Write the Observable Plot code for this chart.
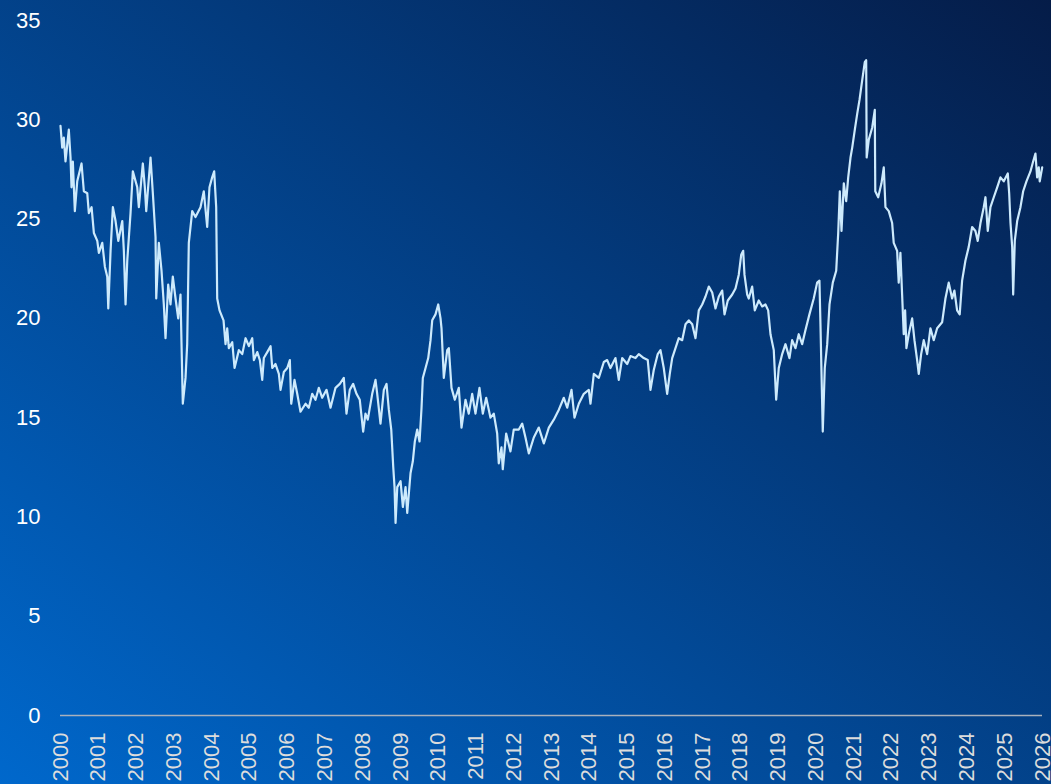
<!DOCTYPE html>
<html>
<head>
<meta charset="utf-8">
<script src="https://cdn.jsdelivr.net/npm/d3@7"></script>
<script src="https://cdn.jsdelivr.net/npm/@observablehq/plot@0.6"></script>
<style>
  html, body { margin: 0; padding: 0; }
  body {
    width: 1051px; height: 784px; overflow: hidden;
    background: linear-gradient(to top right, #0068cc, #051c48);
  }
  #chart svg { display: block; }
</style>
</head>
<body>
<div id="chart"></div>
<script>
// Years elapsed since 1 Jan 2000 for each sampled point
const yearsSince2000 = [
  0.000,0.045,0.087,0.132,0.220,0.265,0.291,0.326,0.379,0.442,0.556,0.617,0.707,0.749,0.821,0.882,0.972,
  1.014,1.104,1.173,1.236,1.263,1.324,1.385,1.456,1.528,1.634,1.676,1.721,1.766,1.853,1.914,
  2.031,2.073,2.179,2.232,2.269,2.383,2.444,2.515,2.534,2.603,2.674,2.735,2.780,2.851,2.912,2.973,
  3.045,3.116,3.177,3.204,3.238,3.310,3.354,3.397,3.487,3.574,3.707,3.794,3.884,3.945,
  4.016,4.069,4.122,4.149,4.210,4.316,4.369,4.413,4.456,4.546,4.607,4.721,4.811,4.898,4.986,
  5.075,5.118,5.208,5.277,5.340,5.382,5.473,5.560,5.605,5.692,5.780,5.825,5.912,
  6.002,6.071,6.108,6.195,6.267,6.354,6.487,6.574,6.664,6.751,6.839,6.929,
  7.043,7.149,7.281,7.395,7.501,7.572,7.659,7.749,7.837,7.924,
  8.014,8.075,8.136,8.253,8.340,8.385,8.472,8.560,8.631,8.692,8.756,8.809,8.843,8.870,8.915,
  9.002,9.063,9.134,9.179,9.266,9.327,9.380,9.444,9.505,9.558,9.592,9.664,9.735,9.796,9.841,9.928,
  10.000,10.061,10.087,10.148,10.238,10.281,10.352,10.439,10.545,10.617,10.723,10.810,10.900,10.987,
  11.093,11.181,11.271,11.385,11.472,11.562,11.604,11.676,11.710,11.800,11.914,
  12.001,12.134,12.224,12.311,12.399,12.531,12.663,12.796,12.928,
  13.060,13.193,13.325,13.415,13.529,13.608,13.722,13.855,13.987,
  14.032,14.120,14.252,14.385,14.474,14.561,14.694,14.781,14.871,
  15.004,15.091,15.224,15.311,15.443,15.549,15.621,15.708,15.814,15.886,15.973,
  16.063,16.132,16.196,16.283,16.370,16.460,16.548,16.635,16.725,16.812,16.899,16.989,
  17.077,17.164,17.254,17.341,17.429,17.519,17.580,17.667,17.784,17.871,17.958,
  18.022,18.075,18.109,18.181,18.223,18.313,18.382,18.488,18.578,18.665,18.737,18.798,18.885,18.949,
  19.018,19.108,19.195,19.301,19.372,19.460,19.547,19.637,19.724,19.830,19.944,
  20.034,20.095,20.122,20.183,20.236,20.300,20.361,20.448,20.538,20.591,20.633,20.678,20.739,20.802,20.855,20.916,20.961,
  21.030,21.093,21.154,21.226,21.294,21.331,21.344,21.400,21.490,21.559,21.572,21.649,21.736,21.797,21.842,21.929,
  22.019,22.061,22.151,22.193,22.238,22.283,22.326,22.363,22.397,22.459,22.549,22.610,22.681,22.724,22.787,22.856,22.946,
  23.033,23.121,23.211,23.343,23.431,23.518,23.608,23.669,23.740,23.809,23.873,23.960,
  24.048,24.138,24.225,24.286,24.358,24.445,24.490,24.551,24.622,24.710,24.800,24.887,24.974,
  25.080,25.117,25.152,25.197,25.223,25.266,25.329,25.416,25.488,25.575,25.681,25.752,25.813,25.858,25.901,25.927,25.991
];

const values = [
  29.7,28.6,29.1,27.9,29.5,28.1,26.6,27.9,25.4,26.9,27.8,26.4,26.3,25.3,25.6,24.3,23.9,
  23.3,23.8,22.6,22.1,20.5,23.4,25.6,24.9,23.9,24.9,23.4,20.7,22.9,25.3,27.4,
  26.6,25.6,27.8,26.6,25.4,28.1,26.3,24.1,21.0,23.8,22.4,20.7,19.0,21.7,20.7,22.1,
  21.0,20.0,21.2,18.7,15.7,17.0,18.7,23.8,25.4,25.1,25.6,26.4,24.6,26.6,
  27.1,27.4,25.6,21.0,20.4,19.9,18.7,19.5,18.5,18.8,17.5,18.4,18.2,19.0,18.6,
  19.0,17.9,18.3,17.9,16.9,18.0,18.3,18.6,17.5,17.7,17.2,16.4,17.3,
  17.5,17.9,15.7,16.9,16.2,15.3,15.7,15.5,16.2,15.9,16.5,16.0,
  16.4,15.5,16.5,16.7,17.0,15.2,16.4,16.7,16.2,15.9,
  14.3,15.2,14.9,16.2,16.9,16.2,14.7,16.4,16.7,15.4,14.4,12.5,11.5,9.7,11.5,
  11.8,10.5,11.5,10.2,12.2,12.8,13.8,14.4,13.8,15.5,17.0,17.5,18.0,18.9,19.9,20.2,
  20.7,20.0,19.5,17.0,18.4,18.5,16.5,15.9,16.5,14.5,15.9,15.2,16.2,15.2,
  16.5,15.2,16.0,15.0,15.2,14.2,12.7,13.5,12.4,14.2,13.3,
  14.4,14.4,14.7,14.0,13.2,14.0,14.5,13.7,14.5,
  14.9,15.4,16.0,15.5,16.4,15.0,15.7,16.2,16.4,
  15.7,17.2,17.0,17.8,17.9,17.5,18.0,16.9,18.0,
  17.7,18.1,18.0,18.2,18.0,17.9,16.4,17.4,18.2,18.4,17.5,
  16.2,17.2,18.0,18.5,19.0,18.9,19.7,19.9,19.7,19.0,20.4,20.7,
  21.1,21.6,21.3,20.5,21.1,21.4,20.2,20.9,21.2,21.5,22.2,
  23.2,23.4,22.2,21.2,21.0,21.6,20.4,20.9,20.6,20.7,20.4,19.2,18.4,15.9,
  17.5,18.2,18.7,18.0,18.9,18.5,19.2,18.7,19.4,20.2,21.0,
  21.8,21.9,19.7,14.3,17.5,18.7,20.7,21.8,22.4,24.3,26.4,24.4,26.8,25.9,27.1,28.1,28.6,
  29.5,30.3,31.0,32.0,32.9,33.0,28.1,29.0,29.6,30.5,26.4,26.1,26.8,27.6,25.6,25.4,
  24.8,23.8,23.4,21.8,23.3,21.2,19.2,20.4,18.5,19.2,20.0,18.9,17.9,17.2,18.2,18.9,18.2,
  19.5,18.9,19.5,19.8,21.0,21.8,21.0,21.4,20.4,20.2,21.9,22.9,
  23.6,24.6,24.4,23.9,24.8,25.6,26.1,24.4,25.6,26.1,26.6,27.1,26.9,
  27.3,26.3,24.8,23.6,21.2,23.9,24.9,25.6,26.4,26.9,27.4,27.9,28.3,27.1,27.6,26.9,27.6
];

const yTicks = [0, 5, 10, 15, 20, 25, 30, 35];
const xTickYears = d3.range(2000, 2027);

function decimalYearToDate(y) {
  const yr = Math.floor(y);
  const start = Date.UTC(yr, 0, 1), end = Date.UTC(yr + 1, 0, 1);
  return new Date(start + (y - yr) * (end - start));
}

const data = yearsSince2000.map((t, i) => ({
  date: decimalYearToDate(2000 + t),
  value: values[i]
}));
const xTicks = xTickYears.map(y => new Date(Date.UTC(y, 0, 1)));

const chart = Plot.plot({
  width: 1051,
  height: 784,
  marginLeft: 60,
  marginRight: 9,
  marginTop: 20,
  marginBottom: 69,
  style: {
    background: "transparent",
    fontFamily: "'Liberation Sans', Arial, sans-serif",
    fontSize: "22px",
    overflow: "visible"
  },
  x: { type: "utc", domain: [xTicks[0], xTicks[xTicks.length - 1]], label: null },
  y: { domain: [0, 35], label: null },
  marks: [
    Plot.ruleY([0], { stroke: "#a9b1bd", strokeWidth: 1.5 }),
    Plot.line(data, { x: "date", y: "value", stroke: "#cdeafc", strokeWidth: 2.2 }),
    Plot.axisY(yTicks, { tickSize: 0, tickPadding: 20, fill: "#ffffff", fontSize: 22, label: null }),
    Plot.axisX(xTicks, { tickSize: 0, tickPadding: 17, tickRotate: -90, tickFormat: d3.utcFormat("%Y"), fill: "#dcdcdc", fontSize: 22, label: null })
  ]
});

document.getElementById("chart").appendChild(chart);
</script>
</body>
</html>
